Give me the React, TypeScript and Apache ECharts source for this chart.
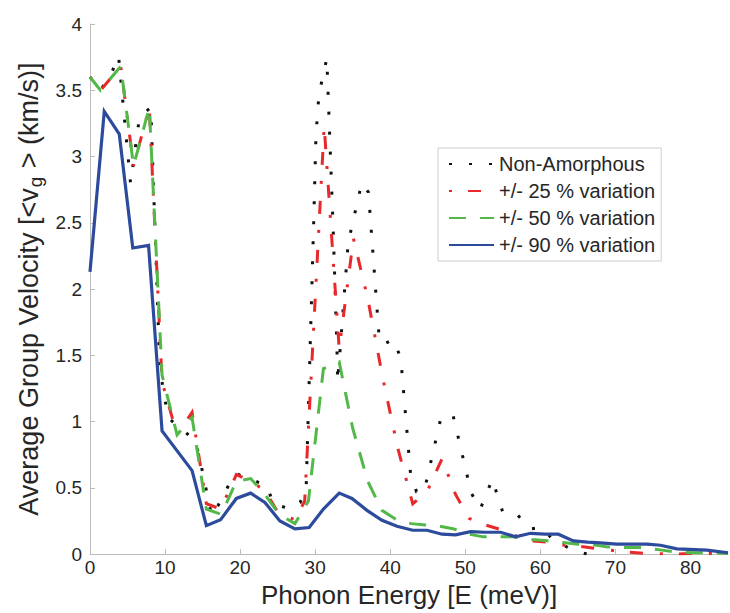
import React, { useEffect, useRef } from 'react';
import * as echarts from 'echarts';

// Non-Amorphous (dotted black)
const nonAmorphousE = [0, 1.4, 2.8, 3.8, 5.4, 6.6, 8.1, 9.3, 10.4, 11.6, 14.0, 14.7, 16.2, 17.1, 19.3, 21.4, 23.6, 24.4, 26.7, 28.0, 28.8, 29.8, 30.1, 30.5, 31.55, 32.4, 32.9, 33.0, 34.4, 36.2, 37.1, 38.5, 39.0, 40.4, 41.4, 42.7, 43.5, 44.5, 46.8, 48.4, 50.8, 52.0, 53.6, 55.0, 56.9, 58.6, 60.2, 61.6, 63.8, 66.2];
const nonAmorphousV = [3.6, 3.5, 3.62, 3.76, 2.8, 3.3, 3.37, 1.4, 1.03, 0.97, 0.86, 0.7, 0.29, 0.37, 0.61, 0.565, 0.515, 0.38, 0.34, 0.39, 0.5, 2.5, 3.15, 3.47, 3.74, 2.45, 1.55, 1.3, 2.35, 2.8, 2.73, 1.65, 1.58, 1.62, 1.48, 0.61, 0.47, 0.47, 1.04, 1.04, 0.46, 0.34, 0.565, 0.315, 0.3, 0.19, 0.2, 0.115, 0.045, 0.0];

// +/- 25 % variation (dash-dot red)
const var25E = [0, 1.4, 4.1, 5.8, 7.9, 9.6, 11.6, 13.6, 15.5, 17.4, 19.5, 21.4, 23.3, 25.2, 27.3, 28.6, 31.2, 33.2, 35.1, 37.0, 39.0, 41.0, 43.0, 44.9, 46.9, 48.7, 50.5, 52.7, 55.0, 56.6, 58.7, 61.0, 62.8, 65.0, 67.6, 69.2, 71.5, 74.0, 78.0, 81.0, 85.0];
const var25V = [3.6, 3.5, 3.68, 2.93, 3.37, 1.3, 0.9, 1.07, 0.38, 0.34, 0.6, 0.55, 0.48, 0.3, 0.26, 0.4, 3.23, 1.55, 2.38, 1.93, 1.33, 0.8, 0.38, 0.47, 0.72, 0.45, 0.27, 0.22, 0.18, 0.14, 0.1, 0.09, 0.07, 0.06, 0.04, 0.03, 0.015, 0.005, 0.0, 0.005, 0.005];

// +/- 50 % variation (dashed green)
const var50E = [0, 1.4, 4.1, 5.8, 7.9, 9.6, 11.6, 13.6, 15.5, 17.5, 19.5, 21.4, 23.3, 25.2, 27.3, 29.1, 31.1, 33.2, 35.0, 37.0, 38.9, 40.8, 42.8, 44.7, 46.6, 48.5, 50.5, 52.4, 54.3, 56.3, 58.9, 60.9, 63.3, 65.0, 67.0, 68.8, 71.5, 73.5, 76.2, 78.0, 80.5, 82.5, 85.0];
const var50V = [3.6, 3.5, 3.68, 2.93, 3.37, 1.35, 0.9, 1.03, 0.34, 0.3, 0.55, 0.57, 0.45, 0.3, 0.23, 0.4, 1.4, 1.45, 0.95, 0.55, 0.33, 0.26, 0.23, 0.22, 0.21, 0.19, 0.15, 0.13, 0.13, 0.13, 0.11, 0.1, 0.085, 0.075, 0.07, 0.055, 0.05, 0.05, 0.03, 0.015, 0.01, 0.01, 0.005];

// +/- 90 % variation (solid blue)
const var90E = [0, 1.9, 3.9, 5.7, 7.8, 9.6, 13.6, 15.5, 17.4, 19.5, 21.4, 23.3, 25.3, 27.3, 29.2, 31.1, 33.2, 34.9, 36.9, 38.9, 40.9, 43.0, 44.9, 46.9, 48.7, 50.7, 52.6, 54.7, 56.7, 58.7, 60.6, 62.4, 64.4, 66.3, 68.0, 70.2, 74.2, 76.0, 78.2, 82.2, 85.0];
const var90V = [2.13, 3.34, 3.17, 2.31, 2.33, 0.93, 0.63, 0.215, 0.26, 0.42, 0.46, 0.39, 0.25, 0.19, 0.2, 0.34, 0.46, 0.42, 0.33, 0.255, 0.21, 0.18, 0.18, 0.15, 0.145, 0.17, 0.165, 0.165, 0.13, 0.157, 0.15, 0.15, 0.1, 0.09, 0.085, 0.075, 0.075, 0.067, 0.04, 0.03, 0.01];

const seriesNames = ['Non-Amorphous', '+/- 25 % variation', '+/- 50 % variation', '+/- 90 % variation'];
const xTickLabels = [0, 10, 20, 30, 40, 50, 60, 70, 80];

export default function App() {
  const ref = useRef<HTMLDivElement>(null);
  useEffect(() => {
    const chart = echarts.init(ref.current as HTMLDivElement, null, { renderer: 'svg' });
    const zip = (e: number[], v: number[]) => e.map((x, i) => [x, v[i]]);
    const font = "'Liberation Sans', Arial, sans-serif";
    const axisColor = '#bcbcbc';
    const textColor = '#262626';
    const mk = (name: string, data: number[][], color: string, type: any, width: number) => ({
      name,
      type: 'line',
      data,
      symbol: 'none',
      showSymbol: false,
      itemStyle: { color },
      lineStyle: { color, width, type, cap: 'butt', join: 'miter' },
    });
    chart.setOption({
      animation: false,
      backgroundColor: '#ffffff',
      textStyle: { fontFamily: font },
      grid: { left: 90, right: 2, top: 24, bottom: 56, containLabel: false },
      legend: {
        data: seriesNames,
        orient: 'vertical',
        left: 438,
        top: 148,
        itemWidth: 45,
        itemHeight: 12,
        itemGap: 7,
        padding: [6, 6, 6, 10],
        borderColor: '#cdcdcd',
        borderWidth: 1,
        backgroundColor: '#ffffff',
        itemStyle: { opacity: 0 },
        textStyle: { fontSize: 20, color: textColor, fontFamily: font },
      },
      xAxis: {
        type: 'value',
        min: 0,
        max: 85,
        interval: 10,
        name: 'Phonon Energy [E (meV)]',
        nameLocation: 'middle',
        nameGap: 26,
        nameTextStyle: { fontSize: 26, color: textColor, fontFamily: font },
        axisLine: { show: true, lineStyle: { color: axisColor, width: 1 } },
        axisTick: { show: true, inside: true, length: 5, lineStyle: { color: axisColor } },
        splitLine: { show: false },
        axisLabel: {
          fontSize: 19,
          color: textColor,
          margin: 4,
          showMaxLabel: false,
          formatter: (v: number) => (xTickLabels.includes(v) ? String(v) : ''),
        },
      },
      yAxis: {
        type: 'value',
        min: 0,
        max: 4,
        interval: 0.5,
        name: 'Average Group Velocity [<v{sub|g} > (km/s)]',
        nameLocation: 'middle',
        nameGap: 45,
        nameTextStyle: {
          fontSize: 27,
          color: textColor,
          fontFamily: font,
          rich: { sub: { fontSize: 19, color: textColor, fontFamily: font, padding: [13, 1, 0, 1] } },
        },
        axisLine: { show: true, lineStyle: { color: axisColor, width: 1 } },
        axisTick: { show: true, inside: true, length: 5, lineStyle: { color: axisColor } },
        splitLine: { show: false },
        axisLabel: { fontSize: 19, color: textColor, margin: 8 },
      },
      series: [
        mk(seriesNames[0], zip(nonAmorphousE, nonAmorphousV), '#111111', [3, 17], 3),
        mk(seriesNames[1], zip(var25E, var25V), '#e8282b', [3, 16, 13, 17], 3),
        mk(seriesNames[2], zip(var50E, var50V), '#52b848', [17, 14], 3),
        mk(seriesNames[3], zip(var90E, var90V), '#2d4b9c', [], 3.2),
      ],
    });
    return () => chart.dispose();
  }, []);
  return <div ref={ref} style={{ position: 'absolute', left: 0, top: 0, width: 730, height: 613 }} />;
}
